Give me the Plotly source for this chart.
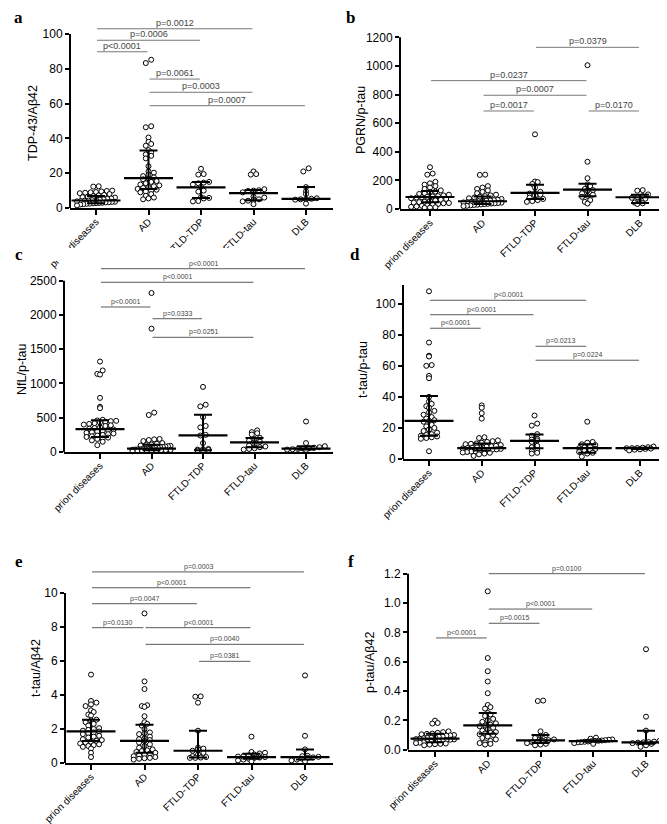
import numpy as np
import plotly.graph_objects as go

W, H = 667, 824

groups = ["prion diseases", "AD", "FTLD-TDP", "FTLD-tau", "DLB"]

# ---- a: TDP-43/Abeta42 ----
a_prion = [12.5, 12.3, 10, 9.8, 9.5, 9.2, 9, 8.8, 8.5, 8, 7.5, 7.2, 6.8, 6.5, 6.2, 6, 5.5, 5.2, 5,
           4.8, 4.6, 4.5, 4.3, 4.2, 4, 3.8, 3.6, 3.5, 3.3, 3.2, 3, 2.9, 2.8, 2.7, 2.5, 2.4, 2.2, 2, 1.5]
a_ad = [85.2, 83.3, 47, 46.4, 40.5, 38, 36.8, 35.8, 33.2, 32, 30.8, 30, 28.5, 24, 21, 20.3, 19, 18.3,
        17.6, 17, 16.5, 15.5, 15, 14.2, 13.5, 13, 12.5, 12, 11.5, 11, 10.5, 10, 9.5, 9, 8, 7, 6, 5.5, 5]
a_tdp = [22.5, 19.5, 19.2, 15, 14.6, 14.2, 13.5, 12.2, 10, 9.4, 6.2, 5.8, 5.5, 4, 3.8]
a_tau = [21, 19.5, 19.2, 10.8, 10.2, 10, 9.8, 9, 6.6, 6, 5, 4.6, 4.2, 3.8, 2.2]
a_dlb = [22.8, 21, 12, 9.6, 8, 5.6, 5.3, 5.1, 5, 4.8, 2.5]
a_median = [4.3, 17.2, 11.8, 8.6, 5.2]
a_q1 = [2.8, 10.9, 5.7, 4.5, 4.8]
a_q3 = [6.9, 33.0, 15.0, 10.3, 12.0]
a_pairs = [(0, 3), (0, 2), (0, 1), (1, 2), (1, 3), (1, 4)]
a_plabels = ["p=0.0012", "p=0.0006", "p<0.0001", "p=0.0061", "p=0.0003", "p=0.0007"]
a_plevels = [103.0, 96.4, 89.8, 74.1, 66.5, 58.8]
a_yticks = [0, 20, 40, 60, 80, 100]

# ---- b: PGRN/p-tau ----
b_prion = [292, 248, 240, 190, 180, 170, 160, 150, 140, 130, 122, 118, 110, 105, 100, 95, 90, 88, 85,
           82, 80, 75, 70, 65, 60, 55, 50, 48, 45, 42, 40, 35, 30, 25, 22, 18, 15, 12, 10, 8]
b_ad = [240, 238, 160, 150, 140, 130, 120, 110, 100, 95, 90, 85, 80, 75, 70, 65, 62, 60, 58, 55, 54,
        52, 50, 48, 46, 44, 42, 40, 38, 36, 34, 32, 30, 28, 25, 22, 20]
b_tdp = [522, 192, 188, 175, 150, 120, 112, 108, 100, 95, 80, 70, 62, 55, 50]
b_tau = [1005, 330, 215, 172, 160, 140, 132, 128, 110, 100, 92, 85, 62, 50, 38]
b_dlb = [132, 128, 102, 90, 82, 78, 72, 50, 45, 40, 35]
b_median = [84, 54, 112, 135, 82]
b_q1 = [47, 35, 70, 89, 42]
b_q3 = [126, 88, 170, 177, 100]
b_pairs = [(2, 4), (0, 3), (1, 3), (1, 2), (3, 4)]
b_plabels = ["p=0.0379", "p=0.0237", "p=0.0007", "p=0.0017", "p=0.0170"]
b_plevels = [1130, 897, 795, 685, 685]
b_yticks = [0, 200, 400, 600, 800, 1000, 1200]

# ---- c: NfL/p-tau ----
c_prion = [1320, 1190, 1140, 1130, 790, 660, 640, 470, 460, 455, 450, 440, 430, 420, 410, 400, 390,
           380, 360, 350, 340, 330, 320, 310, 300, 290, 280, 270, 260, 250, 240, 230, 220, 210, 200,
           190, 170, 150, 100]
c_ad = [2320, 1800, 575, 540, 190, 185, 175, 160, 130, 120, 110, 100, 95, 90, 85, 80, 75, 70, 65, 60,
        55, 50, 48, 45, 42, 40, 38, 35, 33, 30, 28, 25, 22, 20, 18, 15, 12, 10]
c_tdp = [950, 690, 665, 510, 380, 360, 250, 240, 130, 45, 40, 35, 30, 25, 20]
c_tau = [315, 290, 275, 255, 205, 190, 165, 150, 110, 95, 80, 70, 55, 45, 35]
c_dlb = [445, 130, 85, 70, 62, 55, 50, 45, 40, 35, 30]
c_median = [335, 49, 243, 141, 49]
c_q1 = [219, 25, 25, 68, 35]
c_q3 = [462, 107, 545, 204, 83]
c_pairs = [(0, 4), (0, 3), (0, 1), (1, 2), (1, 3)]
c_plabels = ["p<0.0001", "p<0.0001", "p<0.0001", "p=0.0333", "p=0.0251"]
c_plevels = [2675, 2477, 2116, 1945, 1674]
c_yticks = [0, 500, 1000, 1500, 2000, 2500]

# ---- d: t-tau/p-tau ----
d_prion = [108, 75, 66.5, 66, 60.5, 60, 53.5, 52, 40, 37, 35.5, 34, 33, 31, 30, 28.5, 27, 26, 25,
           24.5, 24, 22, 21, 20, 19, 18, 17, 16, 15.5, 15, 14.5, 14, 13.5, 13, 5]
d_ad = [34.5, 33, 29.5, 26, 14, 13.5, 12, 11.5, 11, 10.5, 10, 9.8, 9.5, 9, 8.5, 8.2, 8, 7.8, 7.5,
        7.2, 7, 6.8, 6.5, 6.2, 6, 5.8, 5.5, 5.2, 5, 4.8, 4.5, 4.2, 4, 3.5, 3, 2]
d_tdp = [28, 22.8, 21.5, 16, 15, 13, 12.5, 12, 11, 8.5, 7.6, 5.5, 5, 4, 3.5]
d_tau = [24, 11, 10.5, 9.5, 9, 8, 7.5, 7, 6.5, 6, 5.5, 4.5, 4, 3.5, 1.5]
d_dlb = [8, 7.6, 7.3, 7.1, 7, 6.9, 6.7, 6.5, 6.2, 6, 5.5]
d_median = [24.5, 7, 11.7, 7, 7]
d_q1 = [15, 5.5, 7, 4, 6.5]
d_q3 = [40.5, 10, 15.8, 9.5, 7.3]
d_pairs = [(0, 3), (0, 2), (0, 1), (2, 3), (2, 4)]
d_plabels = ["p<0.0001", "p<0.0001", "p<0.0001", "p=0.0213", "p=0.0224"]
d_plevels = [102.2, 92.9, 84.2, 72.6, 63.6]
d_yticks = [0, 20, 40, 60, 80, 100]

# ---- e: t-tau/Abeta42 ----
e_prion = [5.2, 3.65, 3.55, 3.45, 3.35, 3.1, 3.0, 2.85, 2.8, 2.55, 2.5, 2.4, 2.3, 2.2, 2.05, 2.0,
           1.95, 1.9, 1.85, 1.8, 1.75, 1.7, 1.6, 1.55, 1.5, 1.4, 1.35, 1.3, 1.25, 1.2, 1.15, 1.1,
           1.05, 1.0, 0.95, 0.85, 0.6, 0.35]
e_ad = [8.8, 4.8, 4.35, 3.4, 3.35, 3.3, 2.75, 2.4, 2.3, 2.2, 2.0, 1.8, 1.75, 1.7, 1.55, 1.45, 1.4,
        1.35, 1.3, 1.2, 1.1, 1.0, 0.9, 0.8, 0.75, 0.7, 0.65, 0.6, 0.55, 0.5, 0.45, 0.4, 0.35, 0.3,
        0.28, 0.25, 0.2]
e_tdp = [3.92, 3.9, 3.55, 1.9, 0.9, 0.85, 0.8, 0.72, 0.6, 0.5, 0.4, 0.35, 0.32, 0.3, 0.3]
e_tau = [1.55, 0.65, 0.6, 0.56, 0.5, 0.45, 0.4, 0.38, 0.35, 0.32, 0.3, 0.25, 0.2, 0.15, 0.1]
e_dlb = [5.15, 1.6, 0.8, 0.42, 0.4, 0.36, 0.33, 0.3, 0.25, 0.2, 0.15, 0.1]
e_median = [1.86, 1.3, 0.72, 0.35, 0.35]
e_q1 = [1.3, 0.6, 0.33, 0.25, 0.2]
e_q3 = [2.55, 2.25, 1.9, 0.55, 0.8]
e_pairs = [(0, 4), (0, 3), (0, 2), (0, 1), (1, 3), (1, 4), (2, 3)]
e_plabels = ["p=0.0003", "p<0.0001", "p=0.0047", "p=0.0130", "p<0.0001", "p=0.0040", "p=0.0381"]
e_plevels = [11.24, 10.31, 9.37, 7.96, 7.96, 6.98, 5.98]
e_yticks = [0, 2, 4, 6, 8, 10]

# ---- f: p-tau/Abeta42 ----
f_prion = [0.198, 0.182, 0.178, 0.125, 0.12, 0.115, 0.11, 0.108, 0.105, 0.1, 0.098, 0.095, 0.09,
           0.088, 0.085, 0.082, 0.08, 0.078, 0.075, 0.072, 0.07, 0.068, 0.065, 0.062, 0.06, 0.058,
           0.055, 0.052, 0.05, 0.048, 0.045, 0.042, 0.04, 0.038, 0.035, 0.03]
f_ad = [1.08, 0.625, 0.535, 0.465, 0.385, 0.305, 0.29, 0.28, 0.25, 0.24, 0.23, 0.21, 0.2, 0.19,
        0.18, 0.17, 0.165, 0.16, 0.15, 0.14, 0.13, 0.12, 0.115, 0.11, 0.105, 0.1, 0.09, 0.08,
        0.07, 0.06, 0.05, 0.045, 0.04, 0.035]
f_tdp = [0.335, 0.332, 0.125, 0.1, 0.095, 0.08, 0.07, 0.065, 0.06, 0.055, 0.05, 0.045, 0.04, 0.035, 0.03]
f_tau = [0.082, 0.075, 0.07, 0.068, 0.065, 0.063, 0.061, 0.06, 0.058, 0.056, 0.054, 0.052, 0.05, 0.045, 0.04]
f_dlb = [0.685, 0.225, 0.13, 0.06, 0.055, 0.052, 0.05, 0.048, 0.045, 0.04, 0.03, 0.02]
f_median = [0.075, 0.166, 0.064, 0.059, 0.05]
f_q1 = [0.05, 0.109, 0.045, 0.055, 0.04]
f_q3 = [0.109, 0.25, 0.1, 0.065, 0.13]
f_pairs = [(1, 4), (1, 3), (1, 2), (0, 1)]
f_plabels = ["p=0.0100", "p<0.0001", "p=0.0015", "p<0.0001"]
f_plevels = [1.2, 0.959, 0.862, 0.762]
f_yticks = [0, 0.2, 0.4, 0.6, 0.8, 1.0, 1.2]


# panel geometry in pixels: axis left/right, first/last category, zero line, top tick, top of domain
panels = [
    dict(letter="a", lx=4, ly=9, x0=62, x1=325, c0=88, c4=298, yz=200, yt=26, ytop=0,
         title="TDP-43/A\u03b242", tx=25, ty=115, axtop=100, psize=9, pcol="#777777",
         data=[a_prion, a_ad, a_tdp, a_tau, a_dlb], med=a_median, q1=a_q1, q3=a_q3,
         pairs=a_pairs, plab=a_plabels, plev=a_plevels, yticks=a_yticks),
    dict(letter="b", lx=336, ly=9, x0=392, x1=655, c0=422, c4=632, yz=201, yt=29.3, ytop=0,
         title="PGRN/p-tau", tx=353, ty=112, axtop=1200, psize=9, pcol="#777777",
         data=[b_prion, b_ad, b_tdp, b_tau, b_dlb], med=b_median, q1=b_q1, q3=b_q3,
         pairs=b_pairs, plab=b_plabels, plev=b_plevels, yticks=b_yticks),
    dict(letter="c", lx=5, ly=247, x0=56, x1=325, c0=92, c4=298, yz=444, yt=272.7, ytop=250,
         title="NfL/p-tau", tx=14, ty=362, axtop=2500, psize=7, pcol="#5a5a5a",
         data=[c_prion, c_ad, c_tdp, c_tau, c_dlb], med=c_median, q1=c_q1, q3=c_q3,
         pairs=c_pairs, plab=c_plabels, plev=c_plevels, yticks=c_yticks),
    dict(letter="d", lx=340, ly=247, x0=395, x1=658, c0=421, c4=632, yz=451, yt=295.7, ytop=250,
         title="t-tau/p-tau", tx=355, ty=362, axtop=112, psize=7, pcol="#5a5a5a",
         data=[d_prion, d_ad, d_tdp, d_tau, d_dlb], med=d_median, q1=d_q1, q3=d_q3,
         pairs=d_pairs, plab=d_plabels, plev=d_plevels, yticks=d_yticks),
    dict(letter="e", lx=5, ly=553, x0=57, x1=325, c0=83, c4=297, yz=755, yt=585, ytop=550,
         title="t-tau/A\u03b242", tx=28, ty=660, axtop=10, psize=7, pcol="#5a5a5a",
         data=[e_prion, e_ad, e_tdp, e_tau, e_dlb], med=e_median, q1=e_q1, q3=e_q3,
         pairs=e_pairs, plab=e_plabels, plev=e_plevels, yticks=e_yticks),
    dict(letter="f", lx=338, ly=553, x0=400, x1=663, c0=427, c4=638, yz=741.7, yt=565.7, ytop=550,
         title="p-tau/A\u03b242", tx=362, ty=655, axtop=1.2, psize=7, pcol="#5a5a5a",
         data=[f_prion, f_ad, f_tdp, f_tau, f_dlb], med=f_median, q1=f_q1, q3=f_q3,
         pairs=f_pairs, plab=f_plabels, plev=f_plevels, yticks=f_yticks),
]

FONT = "Liberation Sans, Arial, sans-serif"


def swarm(vals, ppu, row=4.2, gap=5.4, maxw=38):
    # prism-like scatter: points binned in rows, spread sideways, squeezed when crowded
    ys = np.asarray(vals, dtype=float) * ppu
    rows = np.round(ys / row).astype(int)
    xs = np.zeros(len(ys))
    for r in np.unique(rows):
        idx = np.where(rows == r)[0]
        idx = idx[np.argsort(ys[idx])]
        m = len(idx)
        step = gap if m < 2 else min(gap, maxw / (m - 1))
        xs[idx] = (np.arange(m) - (m - 1) / 2) * step
    return xs


fig = go.Figure()
shapes, annotations = [], []
layout = {}

for k, p in enumerate(panels):
    n = "" if k == 0 else str(k + 1)
    sp = (p["c4"] - p["c0"]) / 4.0
    ppu = (p["yz"] - p["yt"]) / p["yticks"][-1]
    xr = [(p["x0"] - p["c0"]) / sp, (p["x1"] - p["c0"]) / sp]
    yr = [0, (p["yz"] - p["ytop"]) / ppu]

    xs, ys = [], []
    for g, vals in enumerate(p["data"]):
        off = swarm(vals, ppu)
        xs += list(g + off / sp)
        ys += list(vals)
    fig.add_trace(go.Scatter(
        x=xs, y=ys, xaxis="x" + n, yaxis="y" + n, mode="markers", cliponaxis=False,
        marker=dict(symbol="circle", size=5, color="white", line=dict(color="black", width=1)),
        showlegend=False, hoverinfo="y"))

    med = np.array(p["med"])
    fig.add_trace(go.Scatter(
        x=list(range(5)), y=p["med"], xaxis="x" + n, yaxis="y" + n, mode="markers",
        cliponaxis=False, showlegend=False,
        marker=dict(symbol="line-ew", size=35, line=dict(color="black", width=2.2)),
        error_y=dict(type="data", symmetric=False, array=list(np.array(p["q3"]) - med),
                     arrayminus=list(med - np.array(p["q1"])), width=9, thickness=2,
                     color="black")))

    layout["xaxis" + n] = dict(
        domain=[p["x0"] / W, p["x1"] / W], range=xr, anchor="y" + n, automargin=False,
        tickvals=list(range(5)), ticktext=groups, tickangle=-45, ticklabelstandoff=-3,
        tickfont=dict(family=FONT, size=10, color="black"),
        showline=True, linewidth=2, linecolor="black", ticks="outside", ticklen=5,
        tickwidth=1.5, tickcolor="black", showgrid=False, zeroline=False, fixedrange=True)
    layout["yaxis" + n] = dict(
        domain=[1 - p["yz"] / H, 1 - p["ytop"] / H], range=yr, anchor="x" + n, automargin=False,
        tickvals=p["yticks"], tickformat=".1f" if k == 5 else "d",
        tickfont=dict(family=FONT, size=12, color="black"),
        showline=False, ticks="outside", ticklen=4, tickwidth=1.5, tickcolor="black",
        showgrid=False, zeroline=False, fixedrange=True)

    # y axis line only up to the top tick
    shapes.append(dict(type="line", xref="x" + n + " domain", yref="y" + n, x0=0, x1=0,
                       y0=0, y1=p["axtop"], line=dict(color="black", width=2)))

    for (i, j), lab, lev in zip(p["pairs"], p["plab"], p["plev"]):
        shapes.append(dict(type="line", xref="x" + n, yref="y" + n, x0=i + 0.02, x1=j - 0.02,
                           y0=lev, y1=lev, line=dict(color=p["pcol"], width=1)))
        annotations.append(dict(xref="x" + n, yref="y" + n, x=(i + j) / 2, y=lev,
                                xanchor="center", yanchor="bottom", text=lab, showarrow=False,
                                yshift=-1, font=dict(family=FONT, size=p["psize"], color="#444444")))

    annotations.append(dict(xref="paper", yref="paper", x=p["tx"] / W, y=1 - p["ty"] / H,
                            xanchor="center", yanchor="middle",
                            text=p["title"], textangle=-90, showarrow=False,
                            font=dict(family=FONT, size=12.5, color="black")))
    annotations.append(dict(xref="paper", yref="paper", x=p["lx"] / W, y=1 - p["ly"] / H,
                            xanchor="left", yanchor="middle", text="<b>%s</b>" % p["letter"],
                            showarrow=False,
                            font=dict(family="Liberation Serif, Times New Roman, serif",
                                      size=17, color="black")))

# the panel a category labels are cut off by the panel below
shapes.append(dict(type="rect", xref="paper", yref="paper", x0=0, x1=336 / W,
                   y0=1 - 253 / H, y1=1 - 240 / H, fillcolor="white", line=dict(width=0),
                   layer="above"))

fig.update_layout(template="none", width=W, height=H, margin=dict(l=0, r=0, t=0, b=0),
                  paper_bgcolor="white", plot_bgcolor="white", showlegend=False,
                  shapes=shapes, annotations=annotations, **layout)

fig.write_html("out.html")
